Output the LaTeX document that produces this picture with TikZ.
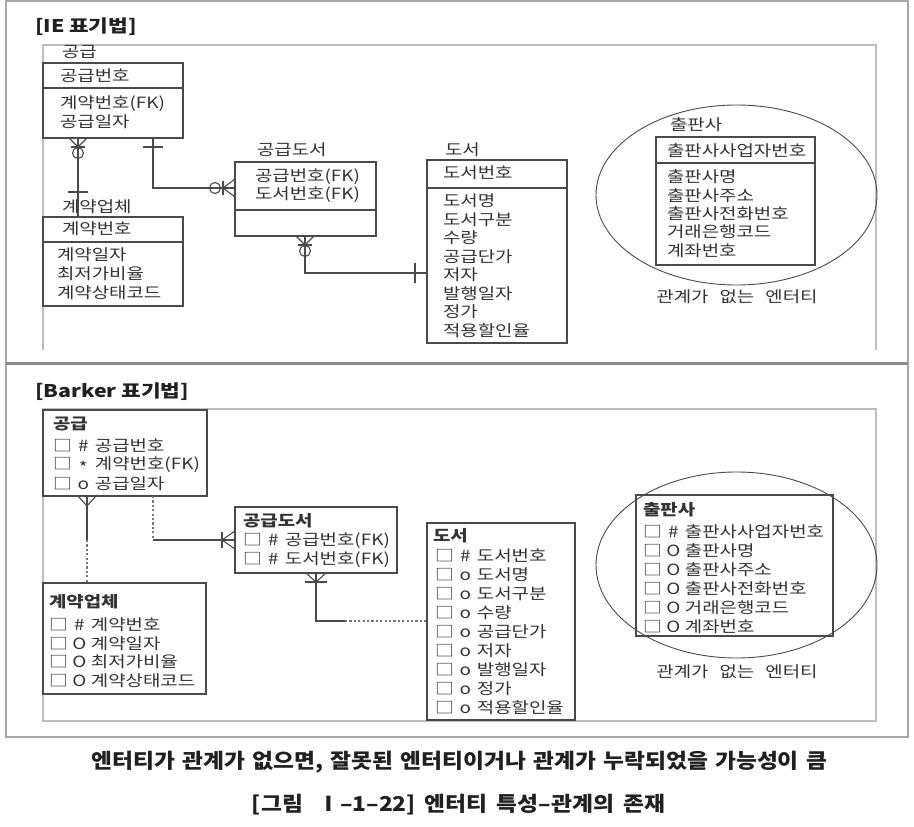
\documentclass[tikz,border=0pt]{standalone}
\usepackage{graphicx}
\usepackage{fontspec}
\setmainfont{Noto Sans CJK KR}[FakeStretch=1.22]
\definecolor{ln}{HTML}{4A4A4A}
\definecolor{fr}{HTML}{A8A8A8}
\definecolor{frb}{HTML}{8A8A8A}
\definecolor{fr2}{HTML}{BEBEBE}
\definecolor{tx}{HTML}{333333}
\definecolor{cap}{HTML}{202020}
\newcommand\brow[2]{□\hspace{7pt}\makebox[9pt][c]{#1}\hspace{7pt}#2}
\begin{document}
\begin{tikzpicture}[x=1pt,y=-1pt,
  ebox/.style={draw=ln, line width=1.1pt, inner sep=0pt, outer sep=0pt, anchor=north west},
  t/.style={inner sep=0pt, outer sep=0pt, text=tx, font=\fontsize{15.5}{18}\selectfont, anchor=west},
  tb/.style={t, font=\fontsize{15.5}{18}\selectfont\bfseries},
  hd/.style={t, text=cap, font=\fontsize{17.5}{20}\selectfont\bfseries},
  captxt/.style={t, text=cap, anchor=center, font=\fontsize{20.5}{24}\selectfont\bfseries},
  conn/.style={draw=ln, line width=1.1pt},
  dotc/.style={draw=ln!75, line width=1.1pt, dash pattern=on 2.2pt off 2.2pt},
  ell/.style={draw=ln, line width=0.9pt}
]
\useasboundingbox (0,0) rectangle (914,827);
\fill[white] (0,0) rectangle (914,827);
% outer frame
\draw[fr, line width=2pt] (6,1) -- (908,1) -- (908,737) -- (6,737) -- cycle;
\draw[frb, line width=2.5pt] (6,363.5) -- (908,363.5);
% inner frames
\draw[fr2, line width=1.5pt] (43,350) -- (43,45) -- (876,45) -- (876,350);
\draw[fr2, line width=1.5pt] (43,409) rectangle (876,721);

% ================= IE =================
\node[hd] (h1) at (35,27) {[IE 표기법]};

% 공급
\node[ebox, minimum width=140pt, minimum height=75pt] (ieGG) at (43,63) {};
\draw[conn] ([yshift=-25pt]ieGG.north west) -- ([yshift=-25pt]ieGG.north east);
\node[t] (ieGGn) at (62,52) {공급};
\node[t] (ieGGk) at (60,76) {공급번호};
\node[t] (ieGGa1) at (60,104) {계약번호(FK)};
\node[t] (ieGGa2) at (60,122) {공급일자};

% 계약업체
\node[ebox, minimum width=140pt, minimum height=89pt] (ieGY) at (43,217) {};
\draw[conn] ([yshift=-25pt]ieGY.north west) -- ([yshift=-25pt]ieGY.north east);
\node[t] (ieGYn) at (62,207) {계약업체};
\node[t] (ieGYk) at (62,229) {계약번호};
\node[t] (ieGYa1) at (57,255) {계약일자};
\node[t] (ieGYa2) at (57,274) {최저가비율};
\node[t] (ieGYa3) at (57,292.5) {계약상태코드};

% 공급도서
\node[ebox, minimum width=141pt, minimum height=74pt] (ieGD) at (235,162) {};
\draw[conn] ([yshift=-48pt]ieGD.north west) -- ([yshift=-48pt]ieGD.north east);
\node[t] (ieGDn) at (257,150) {공급도서};
\node[t] (ieGDa1) at (255,177) {공급번호(FK)};
\node[t] (ieGDa2) at (255,195) {도서번호(FK)};

% 도서
\node[ebox, minimum width=140pt, minimum height=183pt] (ieDS) at (427,160) {};
\draw[conn] ([yshift=-28pt]ieDS.north west) -- ([yshift=-28pt]ieDS.north east);
\node[t] (ieDSn) at (445,150) {도서};
\node[t] (ieDSk) at (443,173) {도서번호};
\foreach \s [count=\i] in {도서명,도서구분,수량,공급단가,저자,발행일자,정가,적용할인율}
  \node[t] (ieDSa\i) at (443,{201+18.5*(\i-1)}) {\s};

% 출판사
\draw[ell] (736.5,195) ellipse [x radius=140.5, y radius=90];
\node[ebox, minimum width=159pt, minimum height=128pt] (iePB) at (656,137) {};
\draw[conn] ([yshift=-26pt]iePB.north west) -- ([yshift=-26pt]iePB.north east);
\node[t] (iePBn) at (670,125) {출판사};
\node[t] (iePBk) at (667,151) {출판사사업자번호};
\foreach \s [count=\i] in {출판사명,출판사주소,출판사전화번호,거래은행코드,계좌번호}
  \node[t] (iePBa\i) at (667,{177+18.3*(\i-1)}) {\s};
\node[t, anchor=center] (ieNR) at (737,297) {관계가\hspace{11pt}없는\hspace{11pt}엔터티};

% IE connectors
% 공급 - 계약업체
\coordinate (p1) at ([xshift=35pt]ieGG.south west);
\draw[conn] (p1) -- ([xshift=35pt]ieGY.north west);
\draw[conn] ([xshift=-9pt]p1) -- ([yshift=-9pt]p1) -- ([xshift=9pt]p1);
\draw[conn] ([xshift=-7pt,yshift=-9pt]p1) -- ([xshift=7pt,yshift=-9pt]p1);
\draw[conn] ([yshift=-15pt]p1) circle[radius=5.5pt];
\draw[conn] ([xshift=25pt,yshift=25pt]ieGY.north west) -- ([xshift=45pt,yshift=25pt]ieGY.north west);
% 공급 - 공급도서
\coordinate (p2s) at ([xshift=110pt]ieGG.south west);
\coordinate (p2) at ([yshift=-26pt]ieGD.north west);
\draw[conn] (p2s) |- (p2);
\draw[conn] ([xshift=-10pt,yshift=-9pt]p2s) -- ([xshift=10pt,yshift=-9pt]p2s);
\draw[conn] ([yshift=9pt]p2) -- ([xshift=-12pt]p2) -- ([yshift=-9pt]p2);
\draw[conn] ([xshift=-12pt,yshift=7pt]p2) -- ([xshift=-12pt,yshift=-7pt]p2);
\draw[conn] ([xshift=-20pt]p2) circle[radius=5.5pt];
% 공급도서 - 도서
\coordinate (p3) at ([xshift=70pt]ieGD.south west);
\coordinate (p3e) at ([yshift=-113pt]ieDS.north west);
\draw[conn] (p3) |- (p3e);
\draw[conn] ([xshift=-9pt]p3) -- ([yshift=-9pt]p3) -- ([xshift=9pt]p3);
\draw[conn] ([xshift=-7pt,yshift=-9pt]p3) -- ([xshift=7pt,yshift=-9pt]p3);
\draw[conn] ([yshift=-15pt]p3) circle[radius=5.5pt];
\draw[conn] ([xshift=-12pt,yshift=10pt]p3e) -- ([xshift=-12pt,yshift=-10pt]p3e);

% ================= Barker =================
\node[hd] (h2) at (35,392) {[Barker 표기법]};

% 공급
\node[ebox, minimum width=164pt, minimum height=86pt] (bkGG) at (43,410) {};
\node[tb] (bkGGn) at (53,424) {공급};
\node[t] (bkGGa1) at (53,446) {\brow{\#}{공급번호}};
\node[t] (bkGGa2) at (53,465) {\brow{\raisebox{-0.28em}{*}}{계약번호(FK)}};
\node[t] (bkGGa3) at (53,484) {\brow{o}{공급일자}};

% 계약업체
\node[ebox, minimum width=163pt, minimum height=111pt] (bkGY) at (43,583) {};
\node[tb] (bkGYn) at (49,602) {계약업체};
\node[t] (bkGYa1) at (49,625) {\brow{\#}{계약번호}};
\node[t] (bkGYa2) at (49,643.5) {\brow{O}{계약일자}};
\node[t] (bkGYa3) at (49,662) {\brow{O}{최저가비율}};
\node[t] (bkGYa4) at (49,681) {\brow{O}{계약상태코드}};

% 공급도서
\node[ebox, minimum width=162pt, minimum height=66pt] (bkGD) at (235,507) {};
\node[tb] (bkGDn) at (243,521) {공급도서};
\node[t] (bkGDa1) at (243,541) {\brow{\#}{공급번호(FK)}};
\node[t] (bkGDa2) at (243,560) {\brow{\#}{도서번호(FK)}};

% 도서
\node[ebox, minimum width=148pt, minimum height=197pt] (bkDS) at (427,523) {};
\node[tb] (bkDSn) at (433,536) {도서};
\node[t] (bkDSk) at (435,556) {\brow{\#}{도서번호}};
\foreach \s [count=\i] in {도서명,도서구분,수량,공급단가,저자,발행일자,정가,적용할인율}
  \node[t] (bkDSa\i) at (435,{575+19*(\i-1)}) {\brow{o}{\s}};

% 출판사
\draw[ell] (736.5,565) ellipse [x radius=140.5, y radius=93];
\node[ebox, minimum width=197pt, minimum height=141pt] (bkPB) at (636,495) {};
\node[tb] (bkPBn) at (643,510) {출판사};
\node[t] (bkPBk) at (643,532) {\brow{\#}{출판사사업자번호}};
\foreach \s [count=\i] in {출판사명,출판사주소,출판사전화번호,거래은행코드,계좌번호}
  \node[t] (bkPBa\i) at (643,{551+19*(\i-1)}) {\brow{O}{\s}};
\node[t, anchor=center] (bkNR) at (737,672) {관계가\hspace{11pt}없는\hspace{11pt}엔터티};

% Barker connectors
% 공급 - 계약업체
\coordinate (q1) at ([xshift=44pt]bkGG.south west);
\coordinate (q1m) at ([yshift=-44pt]q1);
\draw[conn] (q1) -- (q1m);
\draw[dotc] (q1m) -- ([xshift=44pt]bkGY.north west);
\draw[conn] ([xshift=-9pt]q1) -- ([yshift=-10pt]q1) -- ([xshift=9pt]q1);
% 공급 - 공급도서
\coordinate (q2) at ([xshift=110pt]bkGG.south west);
\coordinate (q2m) at (q2 |- bkGD.west);
\draw[dotc] (q2) -- (q2m);
\draw[conn] (q2m) -- (bkGD.west);
\draw[conn] ([yshift=9pt]bkGD.west) -- ([xshift=-13pt]bkGD.west) -- ([yshift=-9pt]bkGD.west);
\draw[conn] ([xshift=-13pt,yshift=8pt]bkGD.west) -- ([xshift=-13pt,yshift=-8pt]bkGD.west);
% 공급도서 - 도서
\coordinate (q3) at ([xshift=81pt]bkGD.south west);
\coordinate (q3e) at ([yshift=-98pt]bkDS.north west);
\coordinate (q3c) at (q3 |- q3e);
\coordinate (q3d) at ([xshift=-82pt]q3e);
\draw[conn] (q3) -- (q3c) -- (q3d);
\draw[dotc] (q3d) -- (q3e);
\draw[conn] ([xshift=-10pt]q3) -- ([yshift=-9pt]q3) -- ([xshift=10pt]q3);
\draw[conn] ([xshift=-11pt,yshift=-9pt]q3) -- ([xshift=11pt,yshift=-9pt]q3);

% captions
\node[captxt] (cap1) at (459.5,762) {\resizebox{735pt}{\height}{\spaceskip=8pt\relax 엔터티가 관계가 없으면, 잘못된 엔터티이거나 관계가 누락되었을 가능성이 큼}};
\node[captxt] (cap2) at (458.5,805) {\resizebox{413pt}{\height}{\spaceskip=10pt\relax [그림\hspace{6pt} Ⅰ–1–22] 엔터티 특성–관계의 존재}};
\end{tikzpicture}
\end{document}
